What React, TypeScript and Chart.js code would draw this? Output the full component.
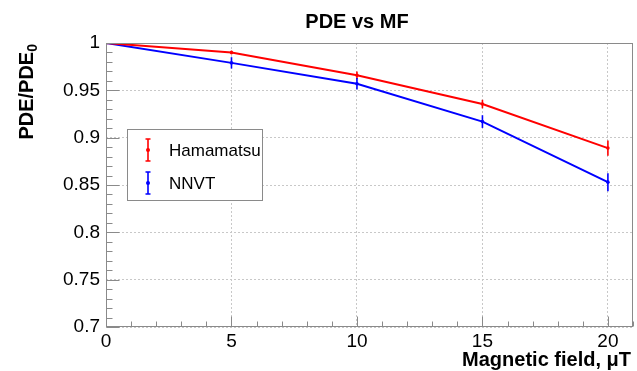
import React, { useEffect, useRef } from "react";
import { Chart, registerables } from "chart.js";

Chart.register(...registerables);

// ---- Data ----
const fieldValues = [0, 5, 10, 15, 20];
const hamamatsuPDE = [1.0, 0.990, 0.966, 0.9355, 0.889];
const hamamatsuErr = [0, 0.002, 0.004, 0.0045, 0.008];
const nnvtPDE = [1.0, 0.979, 0.957, 0.917, 0.853];
const nnvtErr = [0, 0.006, 0.006, 0.0067, 0.0095];
const seriesNames = ["Hamamatsu", "NNVT"];
const seriesColors = ["#ff0000", "#0000ff"];
const chartTitle = "PDE vs MF";
const xAxisTitle = "Magnetic field, \u03bcT";
const yAxisTitleMain = "PDE/PDE";
const yAxisTitleSub = "0";

const FONT = '"Liberation Sans", Arial, Helvetica, sans-serif';
const FRAME = "#8a8a8a";

const rootPlugin = {
  id: "rootStyle",
  afterDatasetsDraw(chart: any) {
    const { ctx, chartArea: ca, scales } = chart;
    const xs = scales.x;
    const ys = scales.y;
    ctx.save();

    // error bars
    const errs = [hamamatsuErr, nnvtErr];
    const vals = [hamamatsuPDE, nnvtPDE];
    for (let s = 0; s < 2; s++) {
      ctx.strokeStyle = seriesColors[s];
      ctx.lineWidth = 1.6;
      for (let i = 0; i < fieldValues.length; i++) {
        const e = errs[s][i];
        if (!e) continue;
        const px = xs.getPixelForValue(fieldValues[i]);
        const y1 = ys.getPixelForValue(vals[s][i] - e);
        const y2 = ys.getPixelForValue(vals[s][i] + e);
        ctx.beginPath();
        ctx.moveTo(px, y1);
        ctx.lineTo(px, y2);
        ctx.stroke();
      }
    }

    // frame
    ctx.strokeStyle = FRAME;
    ctx.lineWidth = 1;
    ctx.strokeRect(
      Math.round(ca.left) + 0.5,
      Math.round(ca.top) + 0.5,
      Math.round(ca.right - ca.left) - 1,
      Math.round(ca.bottom - ca.top) - 1
    );

    // y ticks (inside)
    const x0 = Math.round(ca.left) + 0.5;
    for (let k = 0; k <= 30; k++) {
      const v = 0.7 + k * 0.01;
      const py = Math.round(ys.getPixelForValue(v)) + 0.5;
      const len = k % 5 === 0 ? 13 : 6;
      ctx.beginPath();
      ctx.moveTo(x0, py);
      ctx.lineTo(x0 + len, py);
      ctx.stroke();
    }
    // x ticks (inside)
    const yb = Math.round(ca.bottom) - 0.5;
    for (let k = 0; k <= 21; k++) {
      const px = Math.round(xs.getPixelForValue(k)) + 0.5;
      const len = k % 5 === 0 ? 10 : 5;
      ctx.beginPath();
      ctx.moveTo(px, yb);
      ctx.lineTo(px, yb - len);
      ctx.stroke();
    }

    // legend
    const lx = 127, ly = 129, lw = 135, lh = 71;
    ctx.fillStyle = "#ffffff";
    ctx.fillRect(lx, ly, lw, lh);
    ctx.strokeStyle = FRAME;
    ctx.lineWidth = 1;
    ctx.strokeRect(lx + 0.5, ly + 0.5, lw, lh);
    const rows = [150, 183];
    for (let s = 0; s < 2; s++) {
      const cy = rows[s];
      const cx = 148;
      ctx.strokeStyle = seriesColors[s];
      ctx.fillStyle = seriesColors[s];
      ctx.lineWidth = 1.6;
      ctx.beginPath();
      ctx.moveTo(cx, cy - 11);
      ctx.lineTo(cx, cy + 11);
      ctx.moveTo(cx - 2.5, cy - 11);
      ctx.lineTo(cx + 2.5, cy - 11);
      ctx.moveTo(cx - 2.5, cy + 11);
      ctx.lineTo(cx + 2.5, cy + 11);
      ctx.stroke();
      ctx.beginPath();
      ctx.arc(cx, cy, 2, 0, Math.PI * 2);
      ctx.fill();
      ctx.fillStyle = "#000";
      ctx.font = `17px ${FONT}`;
      ctx.textAlign = "left";
      ctx.textBaseline = "middle";
      ctx.fillText(seriesNames[s], 169, cy + 1);
    }

    // title
    ctx.fillStyle = "#000";
    ctx.font = `bold 20px ${FONT}`;
    ctx.textAlign = "center";
    ctx.textBaseline = "alphabetic";
    ctx.fillText(chartTitle, 357, 28);

    // x axis title
    ctx.textAlign = "right";
    ctx.fillText(xAxisTitle, ca.right - 2, 366);

    // y axis title (rotated, right-aligned to top)
    ctx.save();
    ctx.translate(33, ca.top + 1);
    ctx.rotate(-Math.PI / 2);
    ctx.font = `bold 20px ${FONT}`;
    const w1 = ctx.measureText(yAxisTitleMain).width;
    ctx.font = `bold 14px ${FONT}`;
    const w2 = ctx.measureText(yAxisTitleSub).width;
    ctx.textAlign = "left";
    ctx.font = `bold 20px ${FONT}`;
    ctx.fillText(yAxisTitleMain, -(w1 + w2), 0);
    ctx.font = `bold 14px ${FONT}`;
    ctx.fillText(yAxisTitleSub, -w2, 4);
    ctx.restore();

    ctx.restore();
  },
};

export default function App() {
  const canvasRef = useRef<HTMLCanvasElement | null>(null);

  useEffect(() => {
    if (!canvasRef.current) return;
    const chart = new Chart(canvasRef.current, {
      type: "line",
      data: {
        datasets: [
          {
            label: seriesNames[0],
            data: fieldValues.map((x, i) => ({ x, y: hamamatsuPDE[i] })),
            borderColor: seriesColors[0],
            backgroundColor: seriesColors[0],
            borderWidth: 2,
            pointRadius: 1.8,
            pointBorderWidth: 0,
            tension: 0,
          },
          {
            label: seriesNames[1],
            data: fieldValues.map((x, i) => ({ x, y: nnvtPDE[i] })),
            borderColor: seriesColors[1],
            backgroundColor: seriesColors[1],
            borderWidth: 2,
            pointRadius: 1.8,
            pointBorderWidth: 0,
            tension: 0,
          },
        ],
      },
      options: {
        responsive: false,
        animation: false,
        devicePixelRatio: 1,
        layout: { padding: { top: 43, right: 2, left: 0, bottom: 0 } },
        plugins: {
          legend: { display: false },
          title: { display: false },
          tooltip: { enabled: false },
        },
        scales: {
          x: {
            type: "linear",
            min: 0,
            max: 21,
            afterBuildTicks: (scale: any) => {
              scale.ticks = fieldValues.map((v) => ({ value: v }));
            },
            afterFit: (scale: any) => {
              scale.height = 44;
            },
            ticks: {
              color: "#000",
              font: { family: FONT, size: 19 },
              padding: 3,
              maxRotation: 0,
              autoSkip: false,
              callback: (v: any) => String(v),
            },
            grid: {
              color: "#c8c8c8",
              lineWidth: 1,
              drawTicks: false,
            },
            border: { display: false, dash: [2, 2] },
          },
          y: {
            type: "linear",
            min: 0.7,
            max: 1.0,
            afterBuildTicks: (scale: any) => {
              const t = [];
              for (let k = 0; k <= 6; k++) t.push({ value: 0.7 + k * 0.05 });
              scale.ticks = t;
            },
            afterFit: (scale: any) => {
              scale.width = 106;
            },
            ticks: {
              color: "#000",
              font: { family: FONT, size: 19 },
              padding: 6,
              autoSkip: false,
              callback: (v: any) => String(Number(Number(v).toFixed(2))),
            },
            grid: {
              color: "#c8c8c8",
              lineWidth: 1,
              drawTicks: false,
            },
            border: { display: false, dash: [2, 2] },
          },
        },
      },
      plugins: [rootPlugin],
    });
    return () => chart.destroy();
  }, []);

  return (
    <div style={{ position: "absolute", left: 0, top: 0, width: 637, height: 371, background: "#fff" }}>
      <canvas ref={canvasRef} width={637} height={371} />
    </div>
  );
}
